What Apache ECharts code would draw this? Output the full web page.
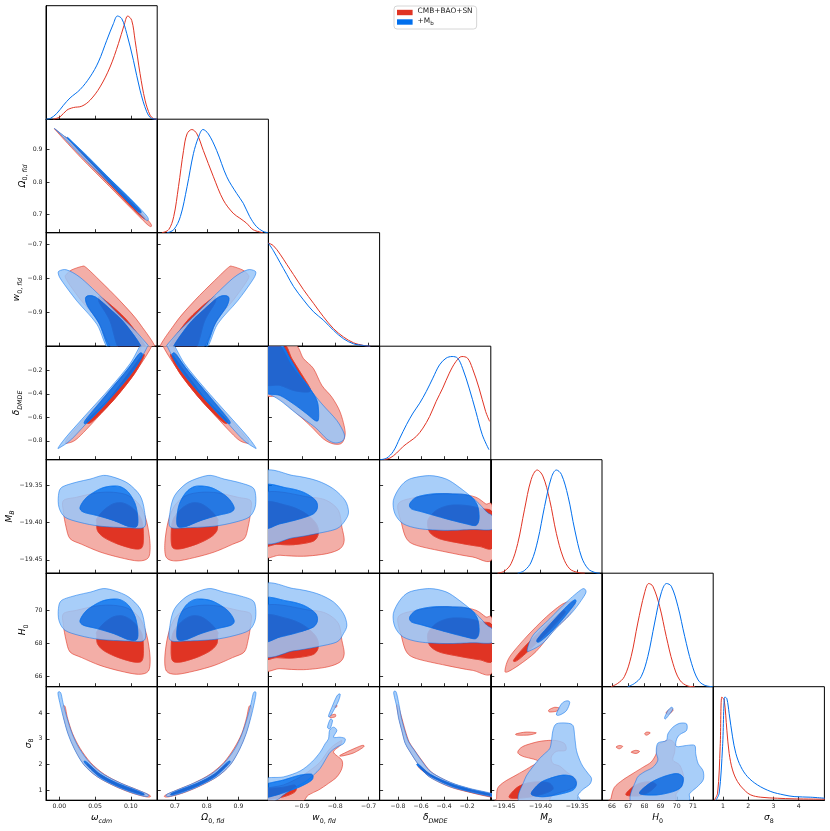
<!DOCTYPE html>
<html><head><meta charset="utf-8">
<script src="https://cdn.jsdelivr.net/npm/echarts@6.0.0/dist/echarts.min.js"></script>
<style>html,body{margin:0;padding:0;background:#fff}#c{width:830px;height:831px}</style>
</head><body><div id="c"></div>
<script>
// ---------- parameters ----------
const PARAMS = ['om','Om','w','dl','MB','H0','s8'];
const RMIN = [-0.0187, 0.644, -1.0, -0.96, -19.468, 65.38, 0.617];
const RMAX = [0.137, 0.994, -0.667, 0.005, -19.316, 72.25, 5.02];
const DECIMALS = [2, 1, 1, 1, 2, 0, 0];
const TICKS_X = [[0,0.05,0.1],[0.7,0.8,0.9],[-0.9,-0.8,-0.7],[-0.8,-0.6,-0.4,-0.2],[-19.45,-19.4,-19.35],[66,67,68,69,70,71],[1,2,3,4]];
const TICKS_Y = [[],[0.7,0.8,0.9],[-0.9,-0.8,-0.7],[-0.8,-0.6,-0.4,-0.2],[-19.45,-19.4,-19.35],[66,68,70],[1,2,3,4]];
const AXIS_NAMES = ['{i|ω}{s|cdm}','{i|Ω}{d|0, }{s|fld}','{i|w}{d|0, }{s|fld}','{i|δ}{s|DMDE}','{i|M}{s|B}','{i|H}{d|0}','{i|σ}{d|8}'];
const LEGEND_NAMES = ['CMB+BAO+SN', '+Mb'];

// ---------- 1D marginals (normalised) ----------
const om_1D_R = [[-0.0084,0],[0.001,0.023],[0.0103,0.087],[0.0197,0.113],[0.0314,0.126],[0.043,0.184],[0.057,0.313],[0.071,0.506],[0.0827,0.732],[0.0906,0.91],[0.0958,1.0],[0.1013,0.958],[0.106,0.765],[0.113,0.442],[0.12,0.184],[0.127,0.039],[0.1317,0.006],[0.1368,0]];
const om_1D_B = [[-0.0186,0],[-0.013,0.006],[-0.0037,0.055],[0.0057,0.135],[0.015,0.206],[0.029,0.287],[0.043,0.41],[0.0547,0.555],[0.0664,0.765],[0.0757,0.926],[0.0813,1.0],[0.0874,0.974],[0.0944,0.829],[0.1037,0.571],[0.113,0.281],[0.1224,0.071],[0.1294,0.006],[0.1368,0]];
const Om_1D_R = [[0.659,0],[0.680,0.029],[0.696,0.157],[0.711,0.446],[0.727,0.798],[0.738,0.958],[0.753,1.0],[0.769,0.958],[0.789,0.798],[0.821,0.542],[0.852,0.317],[0.883,0.189],[0.904,0.141],[0.925,0.093],[0.946,0.029],[0.977,0]];
const Om_1D_B = [[0.675,0],[0.696,0.029],[0.717,0.157],[0.738,0.446],[0.758,0.766],[0.774,0.926],[0.788,1.0],[0.805,0.958],[0.831,0.798],[0.863,0.542],[0.894,0.381],[0.915,0.285],[0.935,0.157],[0.956,0.061],[0.977,0.013],[0.993,0]];
const w_1D_R = [[-1.0,1.0],[-0.985,0.974],[-0.965,0.892],[-0.945,0.793],[-0.925,0.695],[-0.895,0.548],[-0.865,0.416],[-0.835,0.285],[-0.805,0.17],[-0.775,0.089],[-0.745,0.033],[-0.715,0.007],[-0.695,0]];
const w_1D_B = [[-1.0,1.0],[-0.985,0.925],[-0.965,0.81],[-0.945,0.695],[-0.925,0.58],[-0.895,0.449],[-0.865,0.334],[-0.835,0.252],[-0.805,0.154],[-0.775,0.072],[-0.745,0.023],[-0.715,0.007],[-0.695,0]];
const dl_1D_R = [[-0.927,0],[-0.870,0.016],[-0.812,0.065],[-0.755,0.129],[-0.698,0.177],[-0.641,0.226],[-0.584,0.306],[-0.526,0.419],[-0.469,0.565],[-0.412,0.694],[-0.355,0.839],[-0.297,0.952],[-0.246,1.0],[-0.197,0.984],[-0.155,0.887],[-0.097,0.694],[-0.040,0.468],[-0.005,0.371]];
const dl_1D_B = [[-0.955,0],[-0.898,0.016],[-0.841,0.081],[-0.784,0.21],[-0.727,0.339],[-0.670,0.452],[-0.612,0.548],[-0.555,0.661],[-0.498,0.79],[-0.440,0.919],[-0.383,0.984],[-0.331,1.0],[-0.283,0.984],[-0.240,0.887],[-0.183,0.694],[-0.125,0.468],[-0.069,0.242],[-0.011,0.097]];
const MB_1D_R = [[-19.4587,0],[-19.4495,0.02],[-19.4403,0.092],[-19.4312,0.288],[-19.422,0.614],[-19.4128,0.908],[-19.4046,1.0],[-19.3968,0.941],[-19.3876,0.712],[-19.3784,0.386],[-19.3693,0.157],[-19.3601,0.042],[-19.3487,0.007],[-19.3395,0]];
const MB_1D_B = [[-19.4312,0],[-19.422,0.026],[-19.4128,0.108],[-19.4037,0.32],[-19.3945,0.647],[-19.3853,0.925],[-19.3784,1.0],[-19.3715,0.958],[-19.3624,0.745],[-19.3532,0.418],[-19.344,0.157],[-19.3349,0.042],[-19.3257,0.007],[-19.3188,0]];
const H0_1D_R = [[65.94,0],[66.35,0.032],[66.76,0.097],[67.18,0.292],[67.59,0.617],[68.01,0.909],[68.27,1.0],[68.52,0.974],[68.94,0.779],[69.35,0.487],[69.76,0.227],[70.18,0.065],[70.70,0.006],[71.11,0]];
const H0_1D_B = [[66.97,0],[67.39,0.032],[67.80,0.097],[68.21,0.292],[68.63,0.617],[69.04,0.909],[69.37,1.0],[69.66,0.974],[70.07,0.779],[70.49,0.487],[70.91,0.227],[71.32,0.065],[71.73,0.013],[72.23,0]];
const s8_1D_R = [[0.656,0],[0.79,0.068],[0.893,0.518],[0.96,1.0],[1.053,0.968],[1.158,0.678],[1.25,0.453],[1.383,0.293],[1.58,0.18],[1.843,0.10],[2.107,0.051],[2.50,0.029],[3.16,0.019],[3.82,0.013],[5.04,0.01]];
const s8_1D_B = [[0.723,0],[0.854,0.068],[0.988,0.518],[1.079,1.0],[1.158,0.984],[1.25,0.839],[1.383,0.614],[1.514,0.453],[1.711,0.325],[1.975,0.228],[2.37,0.148],[2.90,0.084],[3.42,0.051],[3.82,0.035],[4.48,0.029],[5.04,0.019]];

// ---------- 2D contours: R2/B2 = outer (95%), R1/B1 = inner (68%) ----------
const om_Om_R2 = [[-0.004,0.960],[0.03,0.896],[0.07,0.807],[0.10,0.740],[0.127,0.675],[0.125,0.666],[0.10,0.720],[0.07,0.787],[0.03,0.876],[-0.002,0.952]];
const om_Om_R1 = [[0.012,0.932],[0.06,0.826],[0.115,0.704],[0.113,0.697],[0.06,0.816],[0.014,0.922]];
const om_Om_B2 = [[-0.005,0.962],[0.03,0.900],[0.07,0.812],[0.10,0.748],[0.123,0.694],[0.121,0.684],[0.10,0.730],[0.07,0.796],[0.03,0.882],[-0.001,0.953]];
const om_Om_B1 = [[0.015,0.931],[0.06,0.833],[0.11,0.723],[0.108,0.714],[0.06,0.823],[0.017,0.922]];
const om_w_R2 = [[0.0174,-0.776],[0.0314,-0.766],[0.0374,-0.769],[0.057,-0.808],[0.085,-0.867],[0.113,-0.935],[0.135,-1.02],[0.080,-1.02],[0.0524,-0.921],[0.029,-0.862],[0.0094,-0.803],[0.0103,-0.788]];
const om_w_R1 = [[0.055,-0.862],[0.057,-0.855],[0.0757,-0.886],[0.099,-0.935],[0.124,-1.02],[0.087,-1.02],[0.071,-0.926],[0.057,-0.876]];
const om_w_B2 = [[-0.0014,-0.788],[0.000,-0.779],[0.0103,-0.776],[0.029,-0.798],[0.057,-0.852],[0.085,-0.911],[0.113,-0.970],[0.127,-1.02],[0.074,-1.02],[0.0524,-0.935],[0.0244,-0.867],[0.0034,-0.808]];
const om_w_B1 = [[0.0374,-0.855],[0.050,-0.855],[0.071,-0.891],[0.0944,-0.940],[0.117,-1.02],[0.075,-1.02],[0.056,-0.935],[0.0392,-0.881]];
const om_dl_R2 = [[0.009,-0.813],[0.0126,-0.770],[0.043,-0.556],[0.0757,-0.334],[0.1036,-0.129],[0.1177,0.03],[0.1308,0.03],[0.113,-0.157],[0.085,-0.385],[0.0524,-0.608],[0.0244,-0.784],[0.0104,-0.821]];
const om_dl_R1 = [[0.040,-0.62],[0.070,-0.44],[0.100,-0.20],[0.116,-0.07],[0.118,-0.09],[0.104,-0.24],[0.075,-0.46],[0.045,-0.64]];
const om_dl_B2 = [[-0.0014,-0.856],[0.0104,-0.761],[0.0384,-0.570],[0.071,-0.351],[0.099,-0.143],[0.1155,0.03],[0.125,0.03],[0.1084,-0.157],[0.0804,-0.371],[0.0477,-0.585],[0.0174,-0.784],[0.001,-0.856]];
const om_dl_B1 = [[0.036,-0.627],[0.057,-0.471],[0.0944,-0.20],[0.112,-0.058],[0.1155,-0.086],[0.099,-0.243],[0.0668,-0.471],[0.0396,-0.642]];
const om_MB_R2 = [[0.0057,-19.3707],[0.0243,-19.3662],[0.0524,-19.3604],[0.0757,-19.3596],[0.0967,-19.364],[0.113,-19.3773],[0.1224,-19.3996],[0.127,-19.4284],[0.1247,-19.4471],[0.1107,-19.4516],[0.085,-19.4471],[0.057,-19.4396],[0.0313,-19.4293],[0.015,-19.4218],[0.0094,-19.4062],[0.0057,-19.3862]];
const om_MB_R1 = [[0.0524,-19.3951],[0.0617,-19.384],[0.0757,-19.375],[0.0897,-19.3742],[0.1037,-19.3818],[0.1154,-19.3973],[0.1177,-19.4196],[0.1154,-19.4338],[0.1037,-19.4351],[0.0804,-19.4284],[0.0617,-19.4196],[0.0533,-19.4107],[0.0524,-19.3996]];
const om_MB_B2 = [[-0.0013,-19.364],[0.0033,-19.353],[0.0243,-19.346],[0.043,-19.342],[0.0617,-19.337],[0.078,-19.340],[0.0967,-19.348],[0.113,-19.364],[0.1191,-19.384],[0.1191,-19.406],[0.0944,-19.407],[0.057,-19.405],[0.029,-19.400],[0.008,-19.393],[-0.0005,-19.380]];
const om_MB_B1 = [[0.029,-19.3796],[0.0384,-19.3662],[0.057,-19.3551],[0.071,-19.3516],[0.085,-19.352],[0.0967,-19.3596],[0.1061,-19.375],[0.1098,-19.393],[0.1084,-19.4053],[0.0967,-19.4053],[0.0757,-19.3973],[0.0524,-19.3907],[0.0337,-19.3862]];
const om_H0_R2 = [[0.0057,69.80],[0.0243,70.01],[0.0524,70.27],[0.0757,70.31],[0.0967,70.11],[0.113,69.51],[0.1224,68.49],[0.127,67.18],[0.1247,66.33],[0.1107,66.13],[0.085,66.33],[0.057,66.67],[0.0313,67.14],[0.015,67.48],[0.0094,68.19],[0.0057,69.10]];
const om_H0_R1 = [[0.0524,68.70],[0.0617,69.20],[0.0757,69.61],[0.0897,69.65],[0.1037,69.30],[0.1154,68.60],[0.1177,67.58],[0.1154,66.94],[0.1037,66.88],[0.0804,67.18],[0.0617,67.58],[0.0533,67.99],[0.0524,68.49]];
const om_H0_B2 = [[-0.0013,70.11],[0.0033,70.61],[0.0243,70.92],[0.043,71.10],[0.0617,71.32],[0.078,71.18],[0.0967,70.82],[0.113,70.11],[0.1191,69.20],[0.1191,68.20],[0.0944,68.15],[0.057,68.24],[0.029,68.47],[0.008,68.79],[-0.0005,69.38]];
const om_H0_B1 = [[0.029,69.40],[0.0384,70.01],[0.057,70.51],[0.071,70.67],[0.085,70.65],[0.0967,70.31],[0.1061,69.61],[0.1098,68.79],[0.1084,68.23],[0.0967,68.23],[0.0757,68.60],[0.0524,68.90],[0.0337,69.10]];
const om_s8_R2 = [[0.0045,4.22],[0.008,4.25],[0.0115,3.80],[0.0185,3.20],[0.029,2.63],[0.044,2.07],[0.063,1.62],[0.086,1.28],[0.110,1.01],[0.127,0.80],[0.123,0.74],[0.101,0.90],[0.077,1.17],[0.053,1.53],[0.035,1.98],[0.022,2.58],[0.013,3.17],[0.0065,3.78]];
const om_s8_R1 = [[0.040,1.95],[0.042,1.98],[0.060,1.58],[0.083,1.25],[0.108,0.99],[0.120,0.84],[0.118,0.80],[0.102,0.93],[0.079,1.19],[0.058,1.52]];
const om_s8_B2 = [[-0.002,4.78],[0.002,4.78],[0.0055,4.35],[0.0105,3.83],[0.018,3.19],[0.028,2.62],[0.043,2.06],[0.062,1.62],[0.085,1.29],[0.108,1.03],[0.124,0.84],[0.121,0.76],[0.100,0.92],[0.076,1.19],[0.052,1.55],[0.034,2.00],[0.021,2.60],[0.012,3.19],[0.0055,3.83],[0.001,4.35]];
const om_s8_B1 = [[0.036,2.05],[0.038,2.10],[0.057,1.63],[0.080,1.29],[0.105,1.02],[0.118,0.87],[0.116,0.83],[0.100,0.96],[0.077,1.22],[0.055,1.55]];
const Om_w_R2 = [[0.912,-0.776],[0.881,-0.766],[0.868,-0.769],[0.824,-0.808],[0.761,-0.867],[0.699,-0.935],[0.650,-1.02],[0.773,-1.02],[0.834,-0.921],[0.886,-0.862],[0.930,-0.803],[0.928,-0.788]];
const Om_w_R1 = [[0.828,-0.862],[0.824,-0.855],[0.782,-0.886],[0.730,-0.935],[0.674,-1.02],[0.757,-1.02],[0.793,-0.926],[0.824,-0.876]];
const Om_w_B2 = [[0.954,-0.788],[0.951,-0.779],[0.928,-0.776],[0.886,-0.798],[0.824,-0.852],[0.761,-0.911],[0.699,-0.970],[0.668,-1.02],[0.786,-1.02],[0.834,-0.935],[0.897,-0.867],[0.943,-0.808]];
const Om_w_B1 = [[0.868,-0.855],[0.839,-0.855],[0.793,-0.891],[0.740,-0.940],[0.690,-1.02],[0.784,-1.02],[0.826,-0.935],[0.864,-0.881]];
const Om_dl_R2 = [[0.931,-0.813],[0.923,-0.770],[0.855,-0.556],[0.782,-0.334],[0.720,-0.129],[0.688,0.03],[0.659,0.03],[0.699,-0.157],[0.761,-0.385],[0.834,-0.608],[0.897,-0.784],[0.928,-0.821]];
const Om_dl_R1 = [[0.862,-0.62],[0.795,-0.44],[0.728,-0.20],[0.692,-0.07],[0.688,-0.09],[0.719,-0.24],[0.784,-0.46],[0.851,-0.64]];
const Om_dl_B2 = [[0.954,-0.856],[0.928,-0.761],[0.865,-0.570],[0.793,-0.351],[0.730,-0.143],[0.693,0.03],[0.672,0.03],[0.709,-0.157],[0.772,-0.371],[0.845,-0.585],[0.912,-0.784],[0.949,-0.856]];
const Om_dl_B1 = [[0.871,-0.627],[0.824,-0.471],[0.740,-0.20],[0.701,-0.058],[0.693,-0.086],[0.730,-0.243],[0.802,-0.471],[0.863,-0.642]];
const Om_MB_R2 = [[0.938,-19.3707],[0.897,-19.3662],[0.834,-19.3604],[0.782,-19.3596],[0.735,-19.364],[0.699,-19.3773],[0.678,-19.3996],[0.668,-19.4284],[0.673,-19.4471],[0.704,-19.4516],[0.761,-19.4471],[0.824,-19.4396],[0.881,-19.4293],[0.918,-19.4218],[0.930,-19.4062],[0.938,-19.3862]];
const Om_MB_R1 = [[0.834,-19.3951],[0.813,-19.384],[0.782,-19.375],[0.751,-19.3742],[0.720,-19.3818],[0.693,-19.3973],[0.688,-19.4196],[0.693,-19.4338],[0.720,-19.4351],[0.772,-19.4284],[0.813,-19.4196],[0.832,-19.4107],[0.834,-19.3996]];
const Om_MB_B2 = [[0.954,-19.364],[0.944,-19.353],[0.897,-19.346],[0.855,-19.342],[0.813,-19.337],[0.777,-19.340],[0.735,-19.348],[0.699,-19.364],[0.685,-19.384],[0.685,-19.406],[0.740,-19.407],[0.824,-19.405],[0.886,-19.400],[0.933,-19.393],[0.952,-19.380]];
const Om_MB_B1 = [[0.886,-19.3796],[0.865,-19.3662],[0.824,-19.3551],[0.793,-19.3516],[0.761,-19.352],[0.735,-19.3596],[0.714,-19.375],[0.706,-19.393],[0.709,-19.4053],[0.735,-19.4053],[0.782,-19.3973],[0.834,-19.3907],[0.876,-19.3862]];
const Om_H0_R2 = [[0.938,69.80],[0.897,70.01],[0.834,70.27],[0.782,70.31],[0.735,70.11],[0.699,69.51],[0.678,68.49],[0.668,67.18],[0.673,66.33],[0.704,66.13],[0.761,66.33],[0.824,66.67],[0.881,67.14],[0.918,67.48],[0.930,68.19],[0.938,69.10]];
const Om_H0_R1 = [[0.834,68.70],[0.813,69.20],[0.782,69.61],[0.751,69.65],[0.720,69.30],[0.693,68.60],[0.688,67.58],[0.693,66.94],[0.720,66.88],[0.772,67.18],[0.813,67.58],[0.832,67.99],[0.834,68.49]];
const Om_H0_B2 = [[0.954,70.11],[0.944,70.61],[0.897,70.92],[0.855,71.10],[0.813,71.32],[0.777,71.18],[0.735,70.82],[0.699,70.11],[0.685,69.20],[0.685,68.20],[0.740,68.15],[0.824,68.24],[0.886,68.47],[0.933,68.79],[0.952,69.38]];
const Om_H0_B1 = [[0.886,69.40],[0.865,70.01],[0.824,70.51],[0.793,70.67],[0.761,70.65],[0.735,70.31],[0.714,69.61],[0.706,68.79],[0.709,68.23],[0.735,68.23],[0.782,68.60],[0.834,68.90],[0.876,69.10]];
const Om_s8_R2 = [[0.941,4.22],[0.933,4.25],[0.925,3.80],[0.910,3.20],[0.886,2.63],[0.853,2.07],[0.810,1.62],[0.759,1.28],[0.706,1.01],[0.668,0.80],[0.677,0.74],[0.726,0.90],[0.779,1.17],[0.833,1.53],[0.873,1.98],[0.902,2.58],[0.922,3.17],[0.936,3.78]];
const Om_s8_R1 = [[0.862,1.95],[0.857,1.98],[0.817,1.58],[0.766,1.25],[0.710,0.99],[0.683,0.84],[0.688,0.80],[0.723,0.93],[0.775,1.19],[0.822,1.52]];
const Om_s8_B2 = [[0.955,4.78],[0.947,4.78],[0.939,4.35],[0.928,3.83],[0.911,3.19],[0.889,2.62],[0.855,2.06],[0.813,1.62],[0.761,1.29],[0.710,1.03],[0.674,0.84],[0.681,0.76],[0.728,0.92],[0.781,1.19],[0.835,1.55],[0.875,2.00],[0.904,2.60],[0.924,3.19],[0.939,3.83],[0.949,4.35]];
const Om_s8_B1 = [[0.871,2.05],[0.866,2.10],[0.824,1.63],[0.773,1.29],[0.717,1.02],[0.688,0.87],[0.692,0.83],[0.728,0.96],[0.779,1.22],[0.828,1.55]];
const w_dl_R2 = [[-1.02,0.03],[-0.925,0.03],[-0.895,-0.100],[-0.865,-0.185],[-0.840,-0.328],[-0.810,-0.428],[-0.785,-0.556],[-0.770,-0.727],[-0.780,-0.818],[-0.805,-0.826],[-0.835,-0.784],[-0.875,-0.670],[-0.925,-0.542],[-0.975,-0.428],[-1.02,-0.385]];
const w_dl_R1 = [[-1.02,0.03],[-0.955,0.03],[-0.930,-0.100],[-0.905,-0.214],[-0.875,-0.357],[-0.885,-0.385],[-0.925,-0.371],[-0.965,-0.328],[-1.02,-0.300]];
const w_dl_B2 = [[-1.02,0.03],[-0.970,0.03],[-0.930,-0.157],[-0.885,-0.328],[-0.840,-0.485],[-0.795,-0.627],[-0.773,-0.741],[-0.777,-0.798],[-0.800,-0.818],[-0.825,-0.784],[-0.860,-0.685],[-0.915,-0.570],[-0.965,-0.456],[-1.001,-0.399],[-1.02,-0.399]];
const w_dl_B1 = [[-1.02,0.03],[-0.965,0.03],[-0.935,-0.100],[-0.905,-0.243],[-0.875,-0.357],[-0.853,-0.471],[-0.850,-0.613],[-0.860,-0.627],[-0.885,-0.570],[-0.925,-0.485],[-0.965,-0.414],[-1.02,-0.357]];
const w_MB_R2 = [[-1.02,-19.3631],[-0.875,-19.3662],[-0.825,-19.3707],[-0.790,-19.384],[-0.780,-19.4062],[-0.773,-19.424],[-0.785,-19.4351],[-0.825,-19.4418],[-0.895,-19.4453],[-0.965,-19.444],[-1.02,-19.4418]];
const w_MB_R1 = [[-1.02,-19.375],[-0.945,-19.3773],[-0.895,-19.3862],[-0.860,-19.3996],[-0.850,-19.4129],[-0.865,-19.4249],[-0.925,-19.4298],[-0.975,-19.4293],[-1.02,-19.4284]];
const w_MB_B2 = [[-1.02,-19.3351],[-0.925,-19.3373],[-0.855,-19.344],[-0.805,-19.3551],[-0.770,-19.3707],[-0.760,-19.3862],[-0.770,-19.3973],[-0.795,-19.4084],[-0.855,-19.415],[-0.925,-19.4204],[-1.02,-19.424]];
const w_MB_B1 = [[-1.02,-19.352],[-0.945,-19.3538],[-0.895,-19.3596],[-0.860,-19.3698],[-0.853,-19.3796],[-0.865,-19.3884],[-0.905,-19.3951],[-0.965,-19.4018],[-1.02,-19.4062]];
const w_H0_R2 = [[-1.02,70.15],[-0.875,70.01],[-0.825,69.80],[-0.790,69.20],[-0.780,68.19],[-0.773,67.38],[-0.785,66.88],[-0.825,66.57],[-0.895,66.41],[-0.965,66.47],[-1.02,66.57]];
const w_H0_R1 = [[-1.02,69.61],[-0.945,69.51],[-0.895,69.10],[-0.860,68.49],[-0.850,67.89],[-0.865,67.34],[-0.925,67.12],[-0.975,67.14],[-1.02,67.18]];
const w_H0_B2 = [[-1.02,71.42],[-0.925,71.32],[-0.855,71.02],[-0.805,70.51],[-0.775,69.80],[-0.765,69.10],[-0.775,68.60],[-0.795,68.09],[-0.855,67.79],[-0.925,67.55],[-1.02,67.38]];
const w_H0_B1 = [[-1.02,70.65],[-0.945,70.57],[-0.895,70.31],[-0.860,69.85],[-0.853,69.40],[-0.865,69.00],[-0.905,68.70],[-0.965,68.39],[-1.02,68.19]];
const w_s8_R2 = [[-1.02,1.01],[-0.955,1.21],[-0.905,1.52],[-0.875,1.78],[-0.845,2.10],[-0.820,2.55],[-0.805,2.74],[-0.790,2.87],[-0.780,2.93],[-0.785,2.74],[-0.805,2.48],[-0.780,2.17],[-0.780,1.85],[-0.795,1.52],[-0.820,1.27],[-0.850,1.01],[-0.880,0.82],[-0.910,0.5],[-1.02,0.5]];
const w_s8_R1 = [[-1.02,1.01],[-0.955,1.12],[-0.920,1.20],[-0.920,0.95],[-0.955,0.75],[-1.02,0.63]];
const w_s8_B2 = [[-1.02,1.40],[-0.955,1.52],[-0.905,1.75],[-0.870,2.10],[-0.845,2.48],[-0.830,2.81],[-0.820,3.00],[-0.817,3.32],[-0.805,3.45],[-0.795,3.32],[-0.805,3.06],[-0.785,3.06],[-0.770,3.00],[-0.775,2.81],[-0.795,2.68],[-0.815,2.48],[-0.830,2.17],[-0.845,1.85],[-0.865,1.59],[-0.890,1.33],[-0.925,1.08],[-0.955,0.82],[-0.975,0.63],[-1.02,0.5]];
const w_s8_B1 = [[-1.02,1.17],[-0.955,1.40],[-0.905,1.59],[-0.870,1.62],[-0.870,1.40],[-0.905,1.14],[-0.945,0.95],[-0.975,0.82],[-1.02,0.72]];
const w_s8_RX = [[[-0.785,2.36],[-0.755,2.55],[-0.720,2.74],[-0.715,2.68],[-0.745,2.45],[-0.780,2.33]],[[-0.815,3.90],[-0.800,3.95],[-0.800,3.85],[-0.815,3.82]],[[-0.805,4.25],[-0.795,4.30],[-0.797,4.22]]];
const w_s8_BX = [[[-0.820,3.89],[-0.810,4.22],[-0.795,4.66],[-0.785,4.73],[-0.790,4.47],[-0.805,4.09],[-0.815,3.87]],[[-0.823,3.45],[-0.815,3.75],[-0.808,3.70],[-0.815,3.40]]];
const dl_MB_R2 = [[-0.798,-19.375],[-0.640,-19.3662],[-0.440,-19.3618],[-0.269,-19.3618],[-0.125,-19.3662],[-0.040,-19.375],[0.02,-19.38],[0.02,-19.4484],[-0.155,-19.4462],[-0.383,-19.4396],[-0.640,-19.4307],[-0.726,-19.4218],[-0.769,-19.4018]];
const dl_MB_R1 = [[-0.541,-19.3973],[-0.469,-19.384],[-0.355,-19.3773],[-0.211,-19.3773],[-0.069,-19.3818],[0.02,-19.388],[0.02,-19.4329],[-0.097,-19.432],[-0.269,-19.4276],[-0.440,-19.4218],[-0.526,-19.4129]];
const dl_MB_B2 = [[-0.841,-19.3707],[-0.784,-19.3529],[-0.698,-19.3418],[-0.526,-19.3373],[-0.383,-19.3418],[-0.269,-19.3529],[-0.125,-19.3707],[-0.03,-19.386],[0.02,-19.392],[0.02,-19.409],[-0.155,-19.4095],[-0.383,-19.4107],[-0.612,-19.4084],[-0.755,-19.4018],[-0.827,-19.3884]];
const dl_MB_B1 = [[-0.698,-19.375],[-0.640,-19.3662],[-0.498,-19.3618],[-0.326,-19.3618],[-0.183,-19.364],[-0.111,-19.3773],[-0.097,-19.3951],[-0.125,-19.404],[-0.211,-19.4018],[-0.383,-19.3951],[-0.584,-19.3862],[-0.683,-19.3818]];
const dl_H0_R2 = [[-0.798,69.61],[-0.640,70.01],[-0.440,70.21],[-0.269,70.21],[-0.125,70.01],[-0.040,69.61],[0.02,69.38],[0.02,66.27],[-0.155,66.37],[-0.383,66.67],[-0.640,67.08],[-0.726,67.48],[-0.769,68.39]];
const dl_H0_R1 = [[-0.541,68.60],[-0.469,69.20],[-0.355,69.51],[-0.211,69.51],[-0.069,69.30],[0.02,69.02],[0.02,66.98],[-0.097,67.02],[-0.269,67.22],[-0.440,67.48],[-0.526,67.89]];
const dl_H0_B2 = [[-0.841,69.80],[-0.784,70.61],[-0.698,71.12],[-0.526,71.32],[-0.383,71.12],[-0.269,70.61],[-0.125,69.80],[-0.03,69.11],[0.02,68.84],[0.02,68.06],[-0.155,68.04],[-0.383,67.99],[-0.612,68.09],[-0.755,68.39],[-0.827,69.00]];
const dl_H0_B1 = [[-0.698,69.61],[-0.640,70.01],[-0.498,70.21],[-0.326,70.21],[-0.183,70.11],[-0.111,69.51],[-0.097,68.70],[-0.125,68.29],[-0.211,68.39],[-0.383,68.70],[-0.584,69.10],[-0.683,69.30]];
const dl_s8_R2 = [[-0.81,4.25],[-0.80,4.30],[-0.77,3.85],[-0.738,3.33],[-0.704,2.88],[-0.66,2.58],[-0.59,2.14],[-0.505,1.69],[-0.34,1.29],[-0.17,1.05],[0.02,0.85],[0.02,0.73],[-0.185,0.93],[-0.36,1.15],[-0.535,1.55],[-0.625,2.02],[-0.695,2.50],[-0.735,2.82],[-0.765,3.30],[-0.792,3.80]];
const dl_s8_R1 = [[-0.62,1.90],[-0.61,1.95],[-0.51,1.60],[-0.345,1.25],[-0.175,1.02],[0.02,0.82],[0.02,0.76],[-0.18,0.95],[-0.35,1.18],[-0.525,1.55]];
const dl_s8_B2 = [[-0.838,4.78],[-0.815,4.80],[-0.787,4.22],[-0.772,3.83],[-0.742,3.32],[-0.708,2.88],[-0.663,2.58],[-0.594,2.14],[-0.51,1.70],[-0.345,1.31],[-0.175,1.07],[0.02,0.87],[0.02,0.75],[-0.19,0.95],[-0.365,1.17],[-0.54,1.56],[-0.63,2.04],[-0.70,2.52],[-0.74,2.84],[-0.768,3.32],[-0.797,3.83],[-0.81,4.22]];
const dl_s8_B1 = [[-0.63,1.95],[-0.62,2.0],[-0.52,1.62],[-0.35,1.27],[-0.18,1.04],[0.02,0.84],[0.02,0.78],[-0.185,0.97],[-0.355,1.20],[-0.53,1.58]];
const MB_H0_R2 = [[-19.4486,66.38],[-19.4423,67.18],[-19.4195,68.39],[-19.392,69.61],[-19.369,70.41],[-19.3556,70.52],[-19.3523,70.38],[-19.3604,69.73],[-19.3833,68.72],[-19.4063,67.50],[-19.4292,66.70],[-19.445,66.28]];
const MB_H0_R1 = [[-19.4367,66.99],[-19.422,67.79],[-19.3945,69.01],[-19.3715,69.92],[-19.367,69.82],[-19.3853,68.91],[-19.4128,67.70],[-19.4312,66.99]];
const MB_H0_B2 = [[-19.4183,67.59],[-19.4103,68.49],[-19.3873,69.50],[-19.3644,70.51],[-19.344,71.27],[-19.3385,71.23],[-19.3395,70.93],[-19.3558,69.93],[-19.3787,68.92],[-19.397,68.01],[-19.4128,67.59]];
const MB_H0_B1 = [[-19.4046,68.24],[-19.39,69.01],[-19.367,70.12],[-19.3542,70.62],[-19.3523,70.46],[-19.367,69.61],[-19.3853,68.70],[-19.4014,68.10]];
const MB_s8_R2 = [[-19.4601,0.69],[-19.4587,1.08],[-19.4495,1.33],[-19.4334,1.59],[-19.4151,1.89],[-19.4037,2.14],[-19.4243,2.32],[-19.4312,2.48],[-19.4243,2.70],[-19.4059,2.87],[-19.3922,2.93],[-19.3784,2.93],[-19.367,2.81],[-19.3656,2.55],[-19.3784,2.51],[-19.3853,2.29],[-19.3831,2.04],[-19.3739,1.94],[-19.3646,1.72],[-19.3509,1.40],[-19.3532,1.14],[-19.3646,0.99],[-19.3831,0.82],[-19.3968,0.5],[-19.4601,0.5]];
const MB_s8_R1 = [[-19.4426,0.72],[-19.4334,1.08],[-19.4197,1.27],[-19.4014,1.33],[-19.3876,1.27],[-19.3831,1.04],[-19.3968,0.86],[-19.4197,0.72]];
const MB_s8_B2 = [[-19.4266,0.5],[-19.422,1.40],[-19.4106,1.91],[-19.4014,2.23],[-19.3945,2.42],[-19.3876,2.61],[-19.3853,2.87],[-19.3831,3.32],[-19.3784,3.58],[-19.3646,3.61],[-19.3556,3.51],[-19.3532,3.06],[-19.3509,2.55],[-19.3464,2.17],[-19.3418,1.91],[-19.3349,1.65],[-19.3303,1.46],[-19.3326,1.24],[-19.3418,1.04],[-19.3487,0.82],[-19.3509,0.5]];
const MB_s8_B1 = [[-19.4128,0.86],[-19.4014,1.27],[-19.3876,1.46],[-19.3693,1.59],[-19.3556,1.52],[-19.3509,1.27],[-19.3556,1.01],[-19.3739,0.85],[-19.3968,0.75]];
const MB_s8_RX = [[[-19.3886,4.12],[-19.3807,4.22],[-19.3739,4.18],[-19.3784,4.07],[-19.3876,4.04]],[[-19.4334,3.19],[-19.4197,3.26],[-19.4059,3.23],[-19.4151,3.15],[-19.4312,3.14]]];
const MB_s8_BX = [[[-19.3784,3.96],[-19.3715,4.35],[-19.3646,4.47],[-19.3601,4.41],[-19.3646,4.09],[-19.3739,3.92]]];
const H0_s8_R2 = [[65.94,0.69],[66.14,1.11],[66.66,1.40],[67.28,1.65],[67.90,1.89],[68.42,2.10],[68.73,2.42],[68.83,2.74],[69.18,2.87],[69.56,2.96],[69.87,2.81],[69.87,2.48],[69.76,2.17],[70.18,1.98],[70.43,1.52],[70.29,1.14],[69.98,0.88],[69.56,0.5],[65.94,0.5]];
const H0_s8_R1 = [[66.87,0.82],[67.18,1.08],[67.70,1.27],[68.32,1.33],[68.73,1.21],[68.32,0.95],[67.70,0.79]];
const H0_s8_B2 = [[67.28,0.5],[67.49,1.40],[67.90,1.68],[68.52,1.89],[68.83,2.17],[68.73,2.48],[68.83,2.83],[69.35,2.93],[69.45,3.19],[69.76,3.45],[70.18,3.60],[70.60,3.58],[70.60,3.32],[70.18,3.16],[69.98,2.96],[69.98,2.70],[70.60,2.74],[71.11,2.74],[71.17,2.42],[71.32,2.04],[71.63,1.75],[71.63,1.40],[71.22,1.11],[70.80,0.88],[70.49,0.5]];
const H0_s8_B1 = [[67.70,0.88],[68.32,1.27],[69.14,1.52],[69.98,1.65],[70.39,1.50],[70.29,1.14],[69.76,0.95],[68.73,0.82]];
const H0_s8_RX = [[[66.25,2.68],[66.45,2.74],[66.66,2.70],[66.45,2.61]],[[67.18,2.48],[67.45,2.55],[67.70,2.51],[67.49,2.43]],[[68.01,3.19],[68.15,3.26],[68.36,3.23],[68.15,3.14]],[[69.35,4.03],[69.66,4.18],[69.76,4.09],[69.45,3.94]]];
const H0_s8_BX = [[[69.25,3.83],[69.45,4.09],[69.66,4.22],[69.76,4.16],[69.56,3.96],[69.31,3.77]]];

// ---------- assembly ----------
const ONE_D = [[om_1D_R,om_1D_B],[Om_1D_R,Om_1D_B],[w_1D_R,w_1D_B],[dl_1D_R,dl_1D_B],[MB_1D_R,MB_1D_B],[H0_1D_R,H0_1D_B],[s8_1D_R,s8_1D_B]];
const TWO_D = [
 [0,1,om_Om_R2,om_Om_R1,om_Om_B2,om_Om_B1],
 [0,2,om_w_R2,om_w_R1,om_w_B2,om_w_B1],
 [0,3,om_dl_R2,om_dl_R1,om_dl_B2,om_dl_B1],
 [0,4,om_MB_R2,om_MB_R1,om_MB_B2,om_MB_B1],
 [0,5,om_H0_R2,om_H0_R1,om_H0_B2,om_H0_B1],
 [0,6,om_s8_R2,om_s8_R1,om_s8_B2,om_s8_B1],
 [1,2,Om_w_R2,Om_w_R1,Om_w_B2,Om_w_B1],
 [1,3,Om_dl_R2,Om_dl_R1,Om_dl_B2,Om_dl_B1],
 [1,4,Om_MB_R2,Om_MB_R1,Om_MB_B2,Om_MB_B1],
 [1,5,Om_H0_R2,Om_H0_R1,Om_H0_B2,Om_H0_B1],
 [1,6,Om_s8_R2,Om_s8_R1,Om_s8_B2,Om_s8_B1],
 [2,3,w_dl_R2,w_dl_R1,w_dl_B2,w_dl_B1],
 [2,4,w_MB_R2,w_MB_R1,w_MB_B2,w_MB_B1],
 [2,5,w_H0_R2,w_H0_R1,w_H0_B2,w_H0_B1],
 [2,6,w_s8_R2,w_s8_R1,w_s8_B2,w_s8_B1,w_s8_RX,w_s8_BX],
 [3,4,dl_MB_R2,dl_MB_R1,dl_MB_B2,dl_MB_B1],
 [3,5,dl_H0_R2,dl_H0_R1,dl_H0_B2,dl_H0_B1],
 [3,6,dl_s8_R2,dl_s8_R1,dl_s8_B2,dl_s8_B1],
 [4,5,MB_H0_R2,MB_H0_R1,MB_H0_B2,MB_H0_B1],
 [4,6,MB_s8_R2,MB_s8_R1,MB_s8_B2,MB_s8_B1,MB_s8_RX,MB_s8_BX],
 [5,6,H0_s8_R2,H0_s8_R1,H0_s8_B2,H0_s8_B1,H0_s8_RX,H0_s8_BX]
];

const RED = '#E03424', RED_L = '#F3AEA7', BLUE = '#006FED', BLUE_L = '#99C5F8';
const FONT = 'DejaVu Sans';
const L0 = 46, T0 = 5.7, CW = 111.2, RH = 113.5;
const YNAME_GAP = [0, 15, 14, 12, 27, 18, 10];

function signedArea(p){let a=0;for(let k=0;k<p.length;k++){const q=p[(k+1)%p.length];a+=p[k][0]*q[1]-q[0]*p[k][1];}return a;}
function orient(p,s){return Math.sign(signedArea(p))===s?p:p.slice().reverse();}
function smoothPath(p){
  const n=p.length, t=0.9/6, f=v=>v.toFixed(2);
  let d='M'+f(p[0][0])+' '+f(p[0][1]);
  for(let k=0;k<n;k++){
    const p0=p[(k-1+n)%n],p1=p[k],p2=p[(k+1)%n],p3=p[(k+2)%n];
    const c1x=p1[0]+(p2[0]-p0[0])*t,c1y=p1[1]+(p2[1]-p0[1])*t;
    const c2x=p2[0]-(p3[0]-p1[0])*t,c2y=p2[1]-(p3[1]-p1[1])*t;
    d+='C'+f(c1x)+' '+f(c1y)+' '+f(c2x)+' '+f(c2y)+' '+f(p2[0])+' '+f(p2[1]);
  }
  return d+'Z';
}
function makeRender(outer, inner, extras, light, dark, op){
  return function(params, api){
    const px = poly => poly.map(q => api.coord(q));
    const outs = [outer].concat(extras||[]).map(q => orient(px(q), 1));
    const inn = px(inner);
    const ringD = outs.map(smoothPath).join(' ') + ' ' + smoothPath(orient(inn, -1));
    const innD = smoothPath(orient(inn, 1));
    return {type:'group', children:[
      {type:'path', shape:{pathData:ringD}, style:{fill:light, stroke:dark, lineWidth:0.6, opacity:op}},
      {type:'path', shape:{pathData:innD}, style:{fill:dark, stroke:dark, lineWidth:0.6, opacity:op}}
    ]};
  };
}
const fmt = k => v => { const s = Number(v).toFixed(DECIMALS[k]); return s.replace('-', '\u2212'); };
const nameRich = {
  i:{fontSize:9, fontStyle:'italic', fontFamily:FONT, color:'#000', lineHeight:10, verticalAlign:'top'},
  s:{fontSize:6.3, fontStyle:'italic', fontFamily:FONT, color:'#000', lineHeight:6, padding:[5,0,0,0], verticalAlign:'top'},
  d:{fontSize:6.3, fontFamily:FONT, color:'#000', lineHeight:6, padding:[5,0,0,0], verticalAlign:'top'}
};

const grids=[], xAxes=[], yAxes=[], series=[];
const gridIndex = {};
for (let j=0;j<7;j++) for (let i=0;i<=j;i++){
  const g = grids.length; gridIndex[i+','+j]=g;
  grids.push({left:L0+i*CW, top:T0+j*RH, width:CW, height:RH, show:true, borderColor:'#000', borderWidth:1, outerBoundsMode:'none', containLabel:false});
  xAxes.push({type:'value', gridIndex:g, min:RMIN[i], max:RMAX[i], splitLine:{show:false},
    axisLine:{show:true, onZero:false, lineStyle:{color:'#000', width:1}},
    axisTick:{show:true, inside:true, length:3.5, customValues:TICKS_X[i], lineStyle:{color:'#000', width:0.8}},
    axisLabel:{show:j===6, customValues:TICKS_X[i], formatter:fmt(i), fontSize:6.2, fontFamily:FONT, color:'#222', margin:3},
    name: j===6 ? AXIS_NAMES[i] : '', nameLocation:'middle', nameGap:13,
    nameTextStyle:{rich:nameRich}});
  if (i===j){
    yAxes.push({type:'value', gridIndex:g, min:0, max:1.1, splitLine:{show:false},
      axisLine:{show:true, onZero:false, lineStyle:{color:'#000', width:1}},
      axisTick:{show:false}, axisLabel:{show:false}});
  } else {
    yAxes.push({type:'value', gridIndex:g, min:RMIN[j], max:RMAX[j], splitLine:{show:false},
      axisLine:{show:true, onZero:false, lineStyle:{color:'#000', width:1}},
      axisTick:{show:true, inside:true, length:3.5, customValues:TICKS_Y[j], lineStyle:{color:'#000', width:0.8}},
      axisLabel:{show:i===0, customValues:TICKS_Y[j], formatter:fmt(j), fontSize:6.2, fontFamily:FONT, color:'#222', margin:3.5},
      name: i===0 ? AXIS_NAMES[j] : '', nameLocation:'middle', nameGap:YNAME_GAP[j], nameRotate:90,
      nameTextStyle:{rich:nameRich}});
  }
}
TWO_D.forEach(row => {
  const [i,j,R2,R1,B2,B1,RX,BX] = row;
  const g = gridIndex[i+','+j];
  const anchor = [[(RMIN[i]+RMAX[i])/2, (RMIN[j]+RMAX[j])/2]];
  series.push({type:'custom', name:LEGEND_NAMES[0], xAxisIndex:g, yAxisIndex:g, clip:true, z:2, silent:true,
    itemStyle:{color:RED}, data:anchor, renderItem:makeRender(R2,R1,RX,RED_L,RED,1)});
  series.push({type:'custom', name:LEGEND_NAMES[1], xAxisIndex:g, yAxisIndex:g, clip:true, z:3, silent:true,
    itemStyle:{color:BLUE}, data:anchor, renderItem:makeRender(B2,B1,BX,BLUE_L,BLUE,0.85)});
});
ONE_D.forEach((pair,k) => {
  const g = gridIndex[k+','+k];
  [[pair[0],RED,LEGEND_NAMES[0]],[pair[1],BLUE,LEGEND_NAMES[1]]].forEach(([d,c,nm]) => {
    series.push({type:'line', name:nm, xAxisIndex:g, yAxisIndex:g, data:d, smooth:0.35,
      symbol:'none', showSymbol:false, clip:true, z:4, silent:true, itemStyle:{color:c}, lineStyle:{color:c, width:1}});
  });
});

const chart = echarts.init(document.getElementById('c'), null, {renderer:'canvas'});
chart.setOption({
  animation:false,
  backgroundColor:'#fff',
  grid:grids, xAxis:xAxes, yAxis:yAxes, series:series,
  legend:{
    left:394, top:6, orient:'vertical', icon:'rect', itemWidth:15.6, itemHeight:5.4, itemGap:2.3,
    padding:[2,4,2.5,3], borderColor:'#cccccc', borderWidth:0.8, borderRadius:3, backgroundColor:'#fff',
    selectedMode:false,
    data:[{name:LEGEND_NAMES[0], itemStyle:{color:RED}}, {name:LEGEND_NAMES[1], itemStyle:{color:BLUE}}],
    formatter: nm => nm === '+Mb' ? '{t|+M}{b|b}' : '{t|CMB+BAO+SN}',
    textStyle:{fontSize:7.4, fontFamily:FONT, color:'#222',
      rich:{t:{fontSize:7.4, fontFamily:FONT, color:'#222', lineHeight:9, verticalAlign:'top'}, b:{fontSize:5.5, fontFamily:FONT, color:'#222', padding:[3,0,0,0], lineHeight:6, verticalAlign:'top'}}}
  }
});
</script></body></html>
